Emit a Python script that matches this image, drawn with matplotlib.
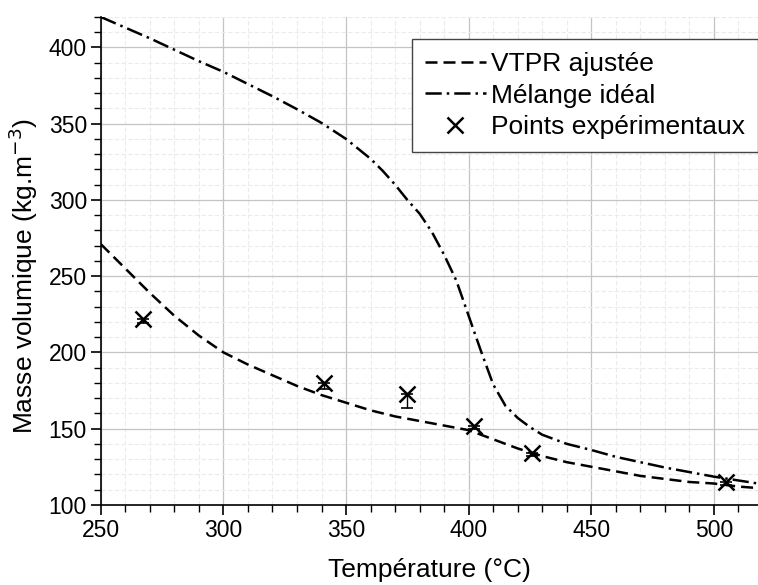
import numpy as np
import matplotlib
matplotlib.use("Agg")
import matplotlib.pyplot as plt
from matplotlib.ticker import MultipleLocator

plt.rcParams['font.family'] = ['Liberation Sans', 'DejaVu Sans']

# ---------------- données ----------------
T_vtpr = [250, 260, 270, 280, 290, 300, 310, 320, 330, 340, 350, 360, 370,
          380, 390, 400, 410, 420, 430, 440, 450, 460, 470, 480, 490, 500,
          510, 518]
rho_vtpr = [271, 255, 239, 224, 211, 200, 192, 185, 178, 172, 167, 162, 158,
            155, 152, 149, 143, 137, 132, 128, 125, 122, 119, 117, 115, 114,
            112, 111]

T_ideal = [250, 260, 270, 280, 290, 300, 310, 320, 330, 340, 350, 360, 365,
           370, 375, 380, 385, 390, 395, 400, 405, 410, 415, 420, 425, 430,
           440, 450, 460, 470, 480, 490, 500, 510, 518]
rho_ideal = [420, 413, 406, 398.5, 391, 384, 376, 368, 359.5, 350.5, 340,
             327, 319, 310, 300, 291, 279, 264, 247, 224, 201, 179, 165, 157,
             151, 146, 140, 136, 131.5, 128, 124.5, 121.5, 118.5, 116, 114]

T_exp = [267, 341, 375, 402, 426, 505]
rho_exp = [222, 180, 172.5, 151.5, 134, 115]
err_low = [3, 4, 9, 2, 2, 2]

# ---------------- figure ----------------
fig = plt.figure(figsize=(7.58, 5.85), dpi=100)
ax = fig.add_axes([0.133, 0.137, 0.867, 0.834])

ax.plot(T_vtpr, rho_vtpr, color='black', lw=1.8, linestyle=(0, (4.8, 2.4)),
        label='VTPR ajustée')
ax.plot(T_ideal, rho_ideal, color='black', lw=1.8,
        linestyle=(0, (6.5, 2, 1, 2)), label='Mélange idéal')
ax.errorbar(T_exp, rho_exp, yerr=[err_low, [0] * len(err_low)], fmt='none',
            ecolor='black', elinewidth=1.0, capsize=4, capthick=1.2)
ax.plot(T_exp, rho_exp, linestyle='none', marker='x', color='black',
        markersize=12, markeredgewidth=1.8, label='Points expérimentaux')

ax.set_xlim(250, 518)
ax.set_ylim(100, 420)
ax.xaxis.set_major_locator(MultipleLocator(50))
ax.xaxis.set_minor_locator(MultipleLocator(10))
ax.yaxis.set_major_locator(MultipleLocator(50))
ax.yaxis.set_minor_locator(MultipleLocator(10))

ax.grid(which='major', color='#c4c4c4', lw=0.9)
ax.grid(which='minor', color='#ebebeb', lw=0.8, linestyle=(0, (4, 2)))
ax.set_axisbelow(True)

for s in ('top', 'right'):
    ax.spines[s].set_visible(False)
for s in ('left', 'bottom'):
    ax.spines[s].set_linewidth(1.2)

ax.tick_params(which='major', direction='out', length=7, width=1.2,
               labelsize=16.5, pad=3)
ax.tick_params(which='minor', direction='out', length=5, width=1.0)

ax.set_xlabel('Température (°C)', fontsize=19, labelpad=12)
ax.set_ylabel('Masse volumique (kg.m$^{-3}$)', fontsize=19)
ax.yaxis.set_label_coords(-0.092, 0.47)

leg = ax.legend(loc='upper right', bbox_to_anchor=(1.0, 0.955), fontsize=19,
                frameon=True, fancybox=False, framealpha=1.0,
                edgecolor='#444444', handlelength=2.3, handletextpad=0.2,
                borderpad=0.5, labelspacing=0.28, borderaxespad=0.0)
leg.get_frame().set_linewidth(1.0)

fig.savefig('out.png', dpi=100)
